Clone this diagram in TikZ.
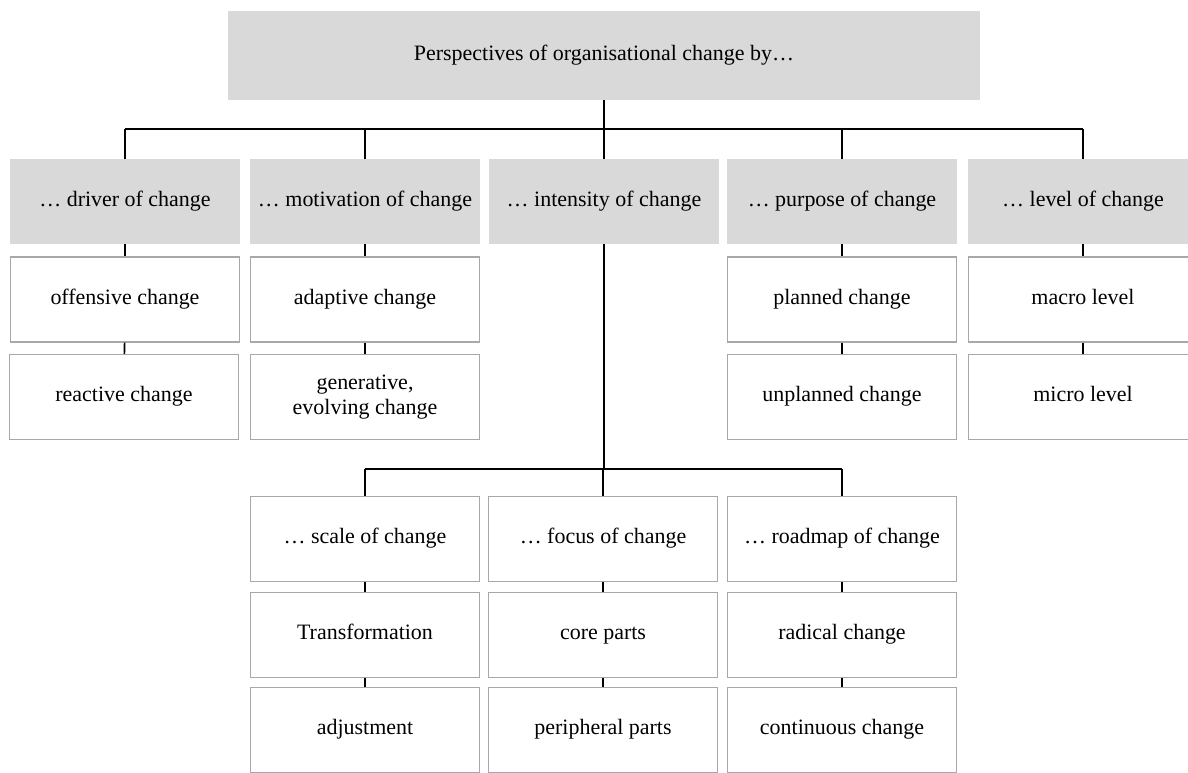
\documentclass[tikz,border=0pt]{standalone}
\usepackage{fontspec}
\setmainfont{Liberation Serif}
\usepackage{tikz}
\usetikzlibrary{calc}
\definecolor{headgray}{RGB}{217,217,217}
\definecolor{framegray}{RGB}{168,168,168}
\tikzstyle{head}=[fill=headgray, minimum width=4.6cm, minimum height=1.7cm, inner xsep=1pt, text height=1.7ex, text depth=0.5ex]
\tikzstyle{itembox}=[draw=framegray, line width=0.8pt, fill=white, minimum width=4.58cm, minimum height=1.7cm, inner xsep=1pt, align=center]
\tikzstyle{item}=[itembox, text height=1.7ex, text depth=0.5ex]
\tikzstyle{link}=[-, line width=0.9pt]
\tikzstyle{bar}=[-, line width=1.3pt]

\begin{document}
\begin{tikzpicture}[x=0.02cm,y=-0.02cm,font=\fontsize{12.5}{14.5}\selectfont]
\useasboundingbox (0,0) rectangle (1188,772);
 \node[head, minimum width=15.04cm, minimum height=1.78cm] (top) at (604,55.5) {Perspectives of organisational change by…};

 % first row of perspectives
 \node[head] (driver) at (125,201.5) {… driver of change};
 \node[head] (motiv) at (365,201.5) {… motivation of change};
 \node[head] (intens) at (604,201.5) {… intensity of change};
 \node[head] (purpose) at (842,201.5) {… purpose of change};
 \node[head] (level) at (1083,201.5) {… level of change};

 \node[item] (offens) at (125,299.5) {offensive change};
 \node[item] (react) at (124,397) {reactive change};
 \node[item] (adapt) at (365,299.5) {adaptive change};
 \node[itembox] (gener) at (365,397) {generative,\\evolving change};
 \node[item] (planned) at (842,299.5) {planned change};
 \node[item] (unplanned) at (842,397) {unplanned change};
 \node[item] (macro) at (1083,299.5) {macro level};
 \node[item] (micro) at (1083,397) {micro level};

 % second row, below intensity
 \node[item] (scale) at (365,539) {… scale of change};
 \node[item] (focus) at (603,539) {… focus of change};
 \node[item] (roadmap) at (842,539) {… roadmap of change};
 \node[item] (transf) at (365,635) {Transformation};
 \node[item] (core) at (603,635) {core parts};
 \node[item] (radical) at (842,635) {radical change};
 \node[item] (adjust) at (365,730) {adjustment};
 \node[item] (periph) at (603,730) {peripheral parts};
 \node[item] (contin) at (842,730) {continuous change};

 \coordinate (bar1) at (604,129);
 \coordinate (bar2) at (604,469);

 % Now draw the tree lines
 \draw[link](top) -- (bar1);
 \draw[bar](driver.north |- bar1) -- (level.north |- bar1);
 \foreach \n in {driver,motiv,intens,purpose,level}
   \draw[link](\n.north |- bar1) -- (\n.north);
 \draw[link](intens) -- (bar2);
 \draw[bar](scale.north |- bar2) -- (roadmap.north |- bar2);
 \foreach \n in {scale,focus,roadmap}
   \draw[link](\n.north |- bar2) -- (\n.north);

 \draw[link](driver) -- (offens);
 \draw[link](offens) -- (react);
 \draw[link](motiv) -- (adapt);
 \draw[link](adapt) -- (gener);
 \draw[link](purpose) -- (planned);
 \draw[link](planned) -- (unplanned);
 \draw[link](level) -- (macro);
 \draw[link](macro) -- (micro);
 \draw[link](scale) -- (transf);
 \draw[link](transf) -- (adjust);
 \draw[link](focus) -- (core);
 \draw[link](core) -- (periph);
 \draw[link](roadmap) -- (radical);
 \draw[link](radical) -- (contin);
\end{tikzpicture}
\end{document}
